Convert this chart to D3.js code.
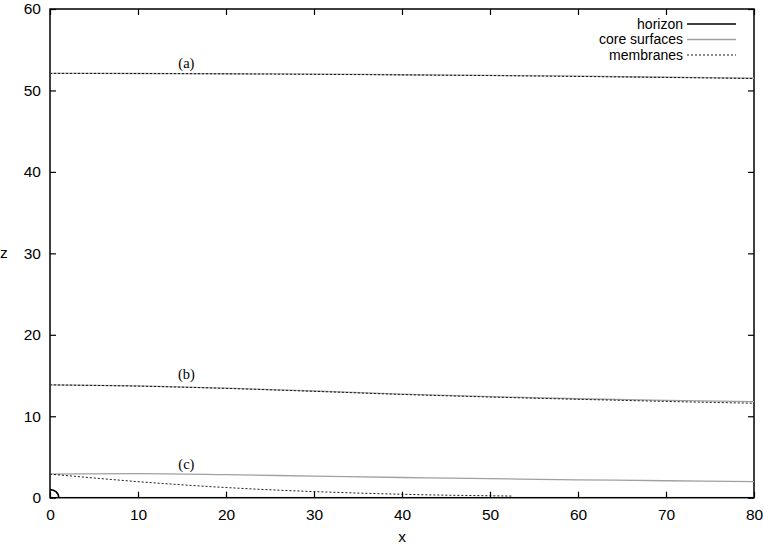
<!DOCTYPE html>
<html>
<head>
<meta charset="utf-8">
<script src="https://cdn.jsdelivr.net/npm/d3@7"></script>
<style>
  body { margin: 0; background: #fff; }
  svg text { font-family: "Liberation Sans", Arial, sans-serif; }
</style>
</head>
<body>
<div id="chart"></div>
<script>
// sample positions along x for the surfaces
const xs = [0, 10, 20, 30, 40, 50, 60, 70, 80];

// core surfaces
const coreA = [52.1, 52.08, 52.05, 52.0, 51.93, 51.85, 51.75, 51.62, 51.5];
const coreB = [13.85, 13.72, 13.45, 13.1, 12.72, 12.42, 12.15, 11.95, 11.79];
const coreC = [2.9, 2.95, 2.83, 2.65, 2.48, 2.33, 2.2, 2.08, 1.97];

// membranes
const membraneA = [52.1, 52.08, 52.04, 51.98, 51.91, 51.83, 51.72, 51.6, 51.47];
const membraneB = [13.85, 13.7, 13.42, 13.06, 12.68, 12.36, 12.08, 11.82, 11.6];
const membraneCx = [0, 5, 10, 15, 20, 25, 30, 35, 40, 45, 50, 52.5];
const membraneC = [2.9, 2.42, 1.97, 1.58, 1.25, 0.97, 0.75, 0.57, 0.42, 0.31, 0.24, 0.2];

// horizon of the small hole at the origin
const horizonRadius = 1;

// curve labels
const labelNames = ["(a)", "(b)", "(c)"];
const labelX = [15.5, 15.5, 15.5];
const labelZ = [52.7, 14.6, 3.5];

const legendNames = ["horizon", "core surfaces", "membranes"];

const xTicks = [0, 10, 20, 30, 40, 50, 60, 70, 80];
const yTicks = [0, 10, 20, 30, 40, 50, 60];

const W = 763, H = 545;
const margin = { top: 9, right: 9, bottom: 47.3, left: 50 },
  width = W - margin.left - margin.right,
  height = H - margin.top - margin.bottom;

const coreColor = "#a0a0a0";

const svg = d3.select("#chart").append("svg")
  .attr("width", W)
  .attr("height", H);

const g = svg.append("g")
  .attr("transform", "translate(" + margin.left + "," + margin.top + ")");

const x = d3.scaleLinear().domain([0, 80]).range([0, width]);
const y = d3.scaleLinear().domain([0, 60]).range([height, 0]);

// axes with inward ticks, mirrored on top and right
const styleAxis = (sel, labels) => {
  sel.select(".domain").remove();
  sel.selectAll(".tick line").attr("stroke", "#000").attr("stroke-width", 1.2);
  if (!labels) sel.selectAll(".tick text").remove();
  else sel.selectAll(".tick text").attr("fill", "#000").style("font-size", "15.5px");
};

g.append("g")
  .attr("transform", "translate(0," + height + ")")
  .call(d3.axisBottom(x).tickValues(xTicks).tickSizeInner(-6).tickSizeOuter(0).tickPadding(11))
  .call((s) => styleAxis(s, true));

g.append("g")
  .call(d3.axisTop(x).tickValues(xTicks).tickSizeInner(-6).tickSizeOuter(0))
  .call((s) => styleAxis(s, false));

g.append("g")
  .call(d3.axisLeft(y).tickValues(yTicks).tickSizeInner(-6).tickSizeOuter(0).tickPadding(9))
  .call((s) => styleAxis(s, true));

g.append("g")
  .attr("transform", "translate(" + width + ",0)")
  .call(d3.axisRight(y).tickValues(yTicks).tickSizeInner(-6).tickSizeOuter(0))
  .call((s) => styleAxis(s, false));

// frame
g.append("rect")
  .attr("width", width)
  .attr("height", height)
  .attr("fill", "none")
  .attr("stroke", "#000")
  .attr("stroke-width", 1.5);

const line = d3.line()
  .curve(d3.curveMonotoneX)
  .x((d) => x(d[0]))
  .y((d) => y(d[1]));

// core surfaces
g.append("g")
  .selectAll("path")
  .data([coreA, coreB, coreC])
  .join("path")
  .attr("fill", "none")
  .attr("stroke", coreColor)
  .attr("stroke-width", 1.3)
  .attr("d", (d) => line(d3.zip(xs, d)));

// membranes
g.append("g")
  .selectAll("path")
  .data([d3.zip(xs, membraneA), d3.zip(xs, membraneB), d3.zip(membraneCx, membraneC)])
  .join("path")
  .attr("fill", "none")
  .attr("stroke", "#000")
  .attr("stroke-width", 0.9)
  .attr("stroke-dasharray", "2,2")
  .attr("d", line);

// horizon: quarter ellipse at origin
const rx = x(horizonRadius) - x(0);
const ry = y(0) - y(horizonRadius);
g.append("path")
  .attr("fill", "none")
  .attr("stroke", "#000")
  .attr("stroke-width", 1.8)
  .attr("d", "M" + x(horizonRadius) + "," + y(0) +
    " A" + rx + "," + ry + " 0 0 0 " + x(0) + "," + y(horizonRadius));

// curve labels
g.append("g")
  .selectAll("text")
  .data(labelNames)
  .join("text")
  .attr("x", (d, i) => x(labelX[i]))
  .attr("y", (d, i) => y(labelZ[i]))
  .attr("text-anchor", "middle")
  .style("font-family", "'Liberation Serif', 'Times New Roman', serif")
  .style("font-size", "14.5px")
  .text((d) => d);

// axis titles
svg.append("text")
  .attr("x", margin.left + width / 2)
  .attr("y", 541.5)
  .attr("text-anchor", "middle")
  .style("font-size", "15.5px")
  .text("x");

svg.append("text")
  .attr("x", 0)
  .attr("y", 258)
  .style("font-size", "15.5px")
  .text("z");

// legend
const legend = svg.append("g");
const legendRows = legend.selectAll("g").data(legendNames).join("g")
  .attr("transform", (d, i) => "translate(0," + (24 + 15.5 * i) + ")");

legendRows.append("text")
  .attr("x", 683)
  .attr("dy", "0.35em")
  .attr("text-anchor", "end")
  .style("font-size", "14px")
  .text((d) => d);

legendRows.append("line")
  .attr("x1", 687)
  .attr("x2", 736)
  .attr("stroke", (d, i) => (i === 1 ? coreColor : "#000"))
  .attr("stroke-width", (d, i) => (i === 2 ? 0.9 : 1.4))
  .attr("stroke-dasharray", (d, i) => (i === 2 ? "2,2" : null));
</script>
</body>
</html>
